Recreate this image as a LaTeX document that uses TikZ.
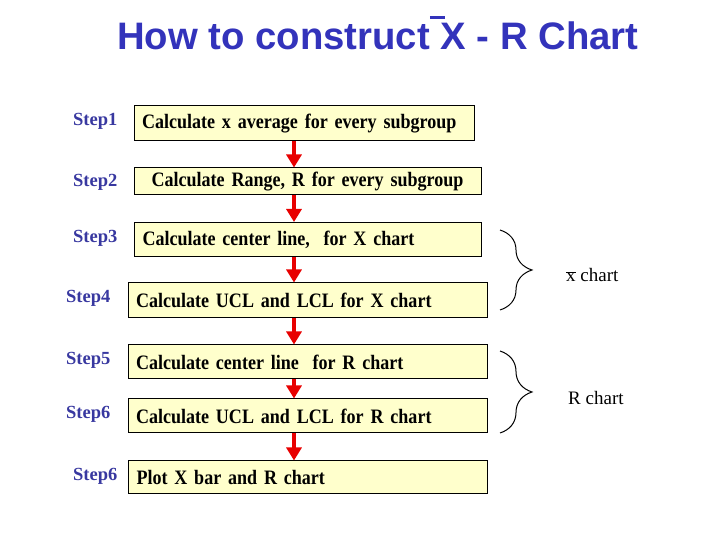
\documentclass[tikz,border=0pt]{standalone}
\usepackage{fontspec}
\setmainfont{Liberation Serif}
\newfontfamily\titlefont{Liberation Sans}
\newfontfamily\boxfont[FakeStretch=0.88]{Liberation Serif}
\usepackage{tikz}
\usetikzlibrary{arrows.meta,positioning,decorations.pathreplacing}
\definecolor{ChartBlue}{HTML}{3333BB}
\definecolor{StepBlue}{HTML}{3838A0}
\definecolor{StepYellow}{HTML}{FFFFCC}
\definecolor{ArrowRed}{HTML}{E80000}
\definecolor{BoxBlack}{HTML}{000000}
\tikzset{
    % Step box style
    stepbox/.style={
        draw=BoxBlack,
        fill=StepYellow,
        line width=1pt,
        inner xsep=8pt,
        inner ysep=0pt,
        align=left,
        font=\boxfont\fontsize{20.5}{24}\selectfont\bfseries
    },
    % Step label style
    steplabel/.style={
        anchor=base west,
        inner sep=0pt,
        text=StepBlue,
        font=\fontsize{18.5}{22}\selectfont\bfseries
    },
    % Arrow style (straight down)
    redarrow/.style={
        -{Triangle[length=13pt,width=15pt]},
        line width=4pt,
        draw=ArrowRed
    },
    % Brace style
    chartbrace/.style={
        decorate,
        decoration={brace,amplitude=32pt,aspect=0.5},
        line width=1pt
    },
    % Brace text
    bracelabel/.style={
        anchor=base west,
        inner sep=0pt,
        font=\fontsize{19}{22}\selectfont
    }
}
\begin{document}
\begin{tikzpicture}[x=1pt,y=1pt]
    \useasboundingbox (0,0) rectangle (720,540);
    % Title
    \node[anchor=base west, inner sep=0pt, text=ChartBlue,
          font=\titlefont\fontsize{38.3}{42}\selectfont\bfseries] (title) at (117,490)
          {How to construct\rlap{\rule[0.82em]{0.4em}{0.07em}} X - R Chart};

    % Steps
    \node[stepbox, minimum width=340pt, minimum height=35pt, text width=324pt] (s1) at (304,416.5) {Calculate x average for every subgroup};
    \node[stepbox, minimum width=347pt, minimum height=27pt, text width=331pt, align=center] (s2) at (307.5,358.5) {Calculate Range, R for every subgroup};
    \node[stepbox, minimum width=347pt, minimum height=34pt, text width=330pt] (s3) at (307.5,300.5) {Calculate center line,\ \ for X chart};
    \node[stepbox, minimum width=359pt, minimum height=35pt, text width=343pt] (s4) at (307.5,239.5) {Calculate UCL and LCL for X chart};
    \node[stepbox, minimum width=359pt, minimum height=34pt, text width=343pt] (s5) at (307.5,178) {Calculate center line\ \ for R chart};
    \node[stepbox, minimum width=359pt, minimum height=34pt, text width=343pt] (s6) at (307.5,124) {Calculate UCL and LCL for R chart};
    \node[stepbox, minimum width=359pt, minimum height=33pt, text width=342pt] (s7) at (307.5,62.5) {Plot X bar and R chart};

    \node[steplabel] (l1) at (73,414) {Step1};
    \node[steplabel] (l2) at (73,353) {Step2};
    \node[steplabel] (l3) at (73,297) {Step3};
    \node[steplabel] (l4) at (66,237) {Step4};
    \node[steplabel] (l5) at (66,175) {Step5};
    \node[steplabel] (l6) at (66,121) {Step6};
    \node[steplabel] (l7) at (73,59) {Step6};

    % Arrows
    \coordinate (ax) at (294,0);
    \foreach \a/\b in {s1/s2,s2/s3,s3/s4,s4/s5,s5/s6,s6/s7}
        \draw[redarrow] (\a.south -| ax) -- (\b.north -| ax);

    % Braces
    \coordinate (xtop) at (500,310);
    \coordinate (xbot) at (500,230);
    \coordinate (rtop) at (500,189);
    \coordinate (rbot) at (500,107);
    \draw[chartbrace] (xtop) -- (xbot);
    \draw[chartbrace] (rtop) -- (rbot);
    \node[bracelabel] (xchart) at (566,258) {$\overline{\mbox{x}}$ chart};
    \node[bracelabel] (rchart) at (568,135) {R chart};
\end{tikzpicture}
\end{document}
